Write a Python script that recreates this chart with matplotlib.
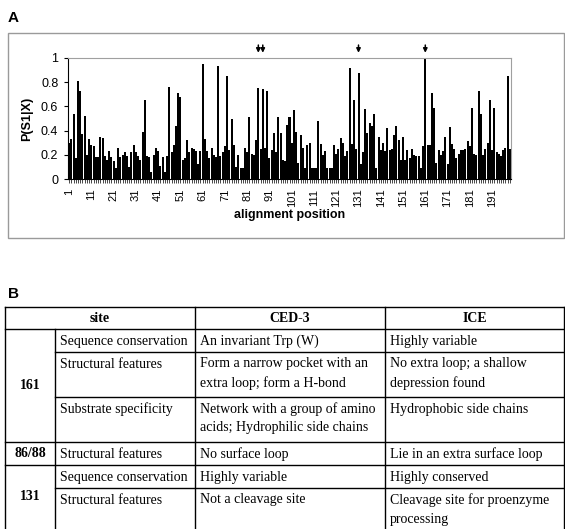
import numpy as np
import matplotlib.pyplot as plt
from matplotlib.patches import Rectangle

# valeurs (positions 1..199)
p_s1 = [
    0.30, 0.33, 0.54, 0.17, 0.81, 0.73, 0.37, 0.52, 0.20, 0.33,
    0.28, 0.27, 0.18, 0.18, 0.35, 0.34, 0.19, 0.16, 0.23, 0.18,
    0.15, 0.09, 0.26, 0.18, 0.20, 0.22, 0.19, 0.10, 0.22, 0.28,
    0.22, 0.19, 0.16, 0.39, 0.65, 0.19, 0.18, 0.06, 0.20, 0.26,
    0.23, 0.11, 0.18, 0.06, 0.19, 0.76, 0.22, 0.28, 0.44, 0.71,
    0.68, 0.16, 0.17, 0.32, 0.22, 0.26, 0.25, 0.23, 0.12, 0.23,
    0.95, 0.33, 0.23, 0.17, 0.26, 0.20, 0.18, 0.93, 0.19, 0.22,
    0.27, 0.85, 0.24, 0.50, 0.28, 0.10, 0.20, 0.09, 0.09, 0.26,
    0.22, 0.51, 0.21, 0.20, 0.32, 0.75, 0.25, 0.74, 0.26, 0.73,
    0.17, 0.24, 0.38, 0.22, 0.51, 0.38, 0.16, 0.15, 0.45, 0.51,
    0.30, 0.57, 0.39, 0.13, 0.36, 0.26, 0.09, 0.28, 0.30, 0.09,
    0.09, 0.09, 0.48, 0.29, 0.20, 0.23, 0.09, 0.09, 0.09, 0.28,
    0.21, 0.25, 0.34, 0.30, 0.19, 0.23, 0.92, 0.29, 0.65, 0.25,
    0.88, 0.12, 0.22, 0.58, 0.38, 0.46, 0.44, 0.54, 0.09, 0.35,
    0.24, 0.30, 0.23, 0.42, 0.24, 0.25, 0.36, 0.44, 0.32, 0.16,
    0.35, 0.16, 0.24, 0.17, 0.25, 0.20, 0.19, 0.19, 0.09, 0.27,
    1.00, 0.28, 0.28, 0.71, 0.59, 0.13, 0.24, 0.20, 0.23, 0.35,
    0.12, 0.43, 0.29, 0.25, 0.17, 0.21, 0.24, 0.24, 0.25, 0.31,
    0.27, 0.59, 0.21, 0.20, 0.73, 0.54, 0.20, 0.25, 0.30, 0.65,
    0.24, 0.59, 0.22, 0.21, 0.19, 0.24, 0.26, 0.85, 0.25,
]
positions = np.arange(1, len(p_s1) + 1)
arrow_sites = [86, 88, 131, 161]
x_ticks = list(range(1, 200, 10))
y_ticks = [0, 0.2, 0.4, 0.6, 0.8, 1]
y_tick_labels = ["0", "0.2", "0.4", "0.6", "0.8", "1"]

# tableau B
header = ["site", "CED-3", "ICE"]
row_site = ["161", "161", "161", "86/88", "131", "131"]
row_feature = ["Sequence conservation", "Structural features", "Substrate specificity",
               "Structural features", "Sequence conservation", "Structural features"]
row_ced3 = ["An invariant Trp (W)",
            "Form a narrow pocket with an\nextra loop; form a H-bond",
            "Network with a group of amino\nacids; Hydrophilic side chains",
            "No surface loop",
            "Highly variable",
            "Not a cleavage site"]
row_ice = ["Highly variable",
           "No extra loop; a shallow\ndepression found",
           "Hydrophobic side chains",
           "Lie in an extra surface loop",
           "Highly conserved",
           "Cleavage site for proenzyme\nprocessing"]

W, H = 565, 529
sans = "Liberation Sans"
serif = "Liberation Serif"
fs_tab = 10

fig = plt.figure(figsize=(W / 100, H / 100), dpi=100)

# calque en pixels pour cadres, lettres et tableau
bg = fig.add_axes([0, 0, 1, 1])
bg.set_xlim(0, W)
bg.set_ylim(H, 0)
bg.axis("off")

bg.add_patch(Rectangle((8, 33), 556, 205, fill=False, edgecolor="#9a9a9a", lw=1))
bg.text(8, 18, "A", ha="left", va="center", fontsize=11, fontweight="bold", family=sans)
bg.text(8, 294, "B", ha="left", va="center", fontsize=11, fontweight="bold", family=sans)

# graphique A
ax = fig.add_axes([68 / W, 1 - 179 / H, 443 / W, 121 / H])
ax.bar(positions, p_s1, width=0.9, color="black", linewidth=0)
ax.set_xlim(0.5, len(p_s1) + 0.5)
ax.set_ylim(0, 1)
ax.set_yticks(y_ticks)
ax.set_yticklabels(y_tick_labels, family=sans, fontsize=9)
ax.set_xticks(x_ticks)
ax.set_xticklabels([str(t) for t in x_ticks], rotation=90, family=sans, fontsize=8)
ax.set_xticks(positions, minor=True)
ax.tick_params(axis="x", which="both", length=3, width=0.5, pad=4)
ax.tick_params(axis="y", length=3, width=0.8, pad=4)
for s in ["top", "right"]:
    ax.spines[s].set_color("#a0a0a0")
    ax.spines[s].set_linewidth(0.8)
for s in ["left", "bottom"]:
    ax.spines[s].set_linewidth(0.8)
ax.set_xlabel("alignment position", fontsize=9, fontweight="bold", family=sans)
ax.xaxis.set_label_coords(0.5, -0.25)
ax.set_ylabel("P(S1|X)", fontsize=9, fontweight="bold", family=sans)
ax.yaxis.set_label_coords(-0.078, 0.5)

# flèches au-dessus des sites discutés
for s in arrow_sites:
    ax.annotate("", xy=(s, 1.02), xycoords=("data", "axes fraction"),
                xytext=(s, 1.13), textcoords=("data", "axes fraction"),
                arrowprops=dict(arrowstyle="-|>", color="black", lw=1.1, mutation_scale=6),
                annotation_clip=False)

# tableau B (coordonnées en pixels)
col_x = [5, 55, 195, 385, 564]
y_top, y_head = 307, 329
row_edges = [329, 352, 397, 442, 465, 488, 529]
lw = 1.0

bg.plot([col_x[0], col_x[-1]], [y_top, y_top], color="black", lw=lw)
bg.plot([col_x[0], col_x[-1]], [y_head, y_head], color="black", lw=lw)
for i in range(1, len(row_site)):
    x0 = col_x[0] if row_site[i] != row_site[i - 1] else col_x[1]
    bg.plot([x0, col_x[-1]], [row_edges[i], row_edges[i]], color="black", lw=lw)
for j, xc in enumerate(col_x):
    y0 = y_head if j == 1 else y_top
    bg.plot([xc, xc], [y0, H], color="black", lw=lw)

head_x = [(col_x[0] + col_x[2]) / 2, (col_x[2] + col_x[3]) / 2, (col_x[3] + col_x[4]) / 2]
for hx, txt in zip(head_x, header):
    bg.text(hx, 318, txt, ha="center", va="center", fontsize=fs_tab, fontweight="bold", family=serif)

# numéros de site sur plusieurs lignes
start = 0
for i in range(1, len(row_site) + 1):
    if i == len(row_site) or row_site[i] != row_site[start]:
        yc = (row_edges[start] + row_edges[i]) / 2
        bg.text((col_x[0] + col_x[1]) / 2, yc, row_site[start], ha="center", va="center",
                fontsize=fs_tab, fontweight="bold", family=serif)
        start = i

for i in range(len(row_site)):
    for c, txt in zip([1, 2, 3], [row_feature[i], row_ced3[i], row_ice[i]]):
        for k, line in enumerate(txt.split("\n")):
            bg.text(col_x[c] + 5, row_edges[i] + 12 + 19 * k, line, ha="left", va="center",
                    fontsize=fs_tab, family=serif)

fig.savefig("out.png", dpi=100)
